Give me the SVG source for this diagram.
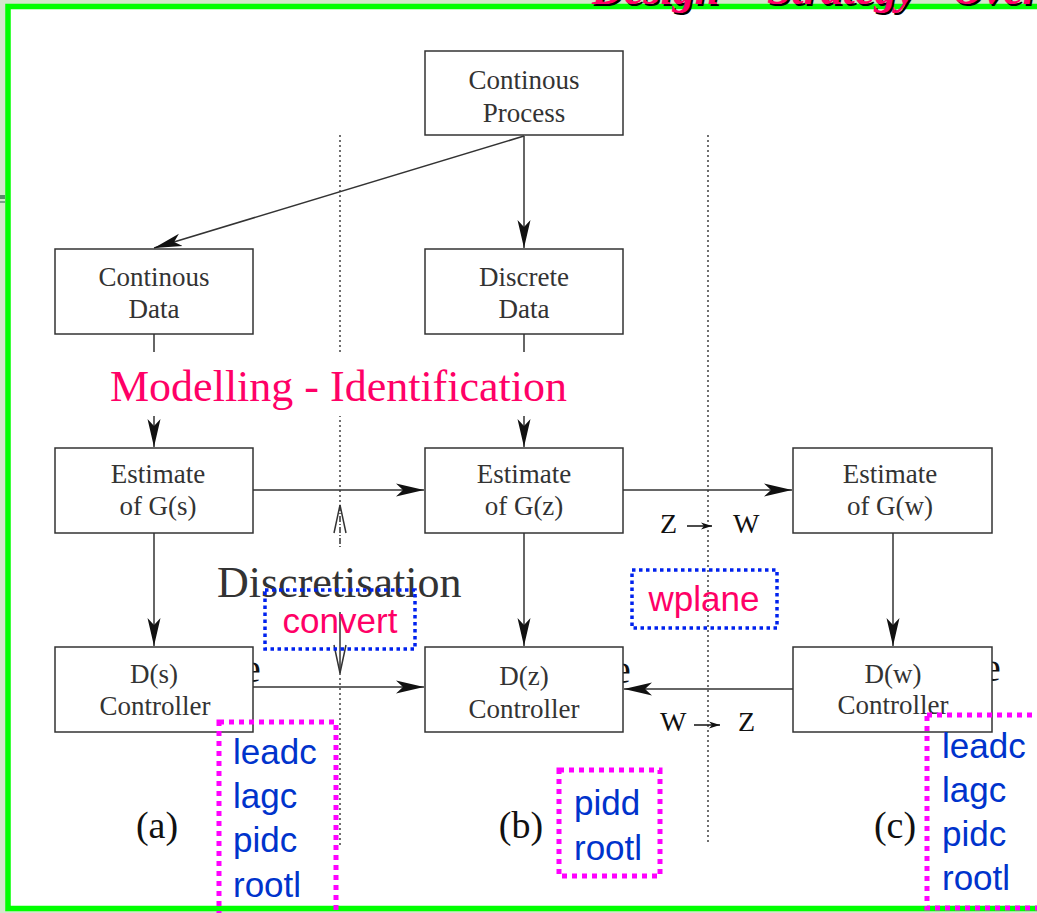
<svg xmlns="http://www.w3.org/2000/svg" width="1037" height="913" viewBox="0 0 1037 913">
<style>
.box{fill:#fff;stroke:#333;stroke-width:1.5}
.bt{font-family:"Liberation Serif",serif;font-size:27px;fill:#333;text-anchor:middle}
.ln{stroke:#333;stroke-width:1.5;fill:none}
.dot{stroke:#111;stroke-width:1.2;stroke-dasharray:2,3;fill:none}
.big{font-family:"Liberation Serif",serif;font-size:44px}
.lab{font-family:"Liberation Serif",serif;font-size:38px;fill:#111;text-anchor:middle}
.zw{font-family:"Liberation Serif",serif;font-size:28px;fill:#111}
.bluebox{fill:none;stroke:#0022ee;stroke-width:3.5;stroke-dasharray:3.5,3.5}
.magbox{fill:none;stroke:#ff00ff;stroke-width:5;stroke-dasharray:5,5}
.pk{font-family:"Liberation Sans",sans-serif;font-size:35px;fill:#ff0066;text-anchor:middle}
.bl{font-family:"Liberation Sans",sans-serif;font-size:35px;fill:#0033cc}
</style>
<defs>
<marker id="ah" markerWidth="30" markerHeight="16" refX="28" refY="8" orient="auto" markerUnits="userSpaceOnUse">
<path d="M0,1.5 L28,8 L0,14.5 L7,8 Z" fill="#111"/>
</marker>
<marker id="sa" markerWidth="12" markerHeight="8" refX="11" refY="4" orient="auto" markerUnits="userSpaceOnUse">
<path d="M0,0.5 L11,4 L0,7.5 L3,4 Z" fill="#111"/>
</marker>
</defs>
<rect x="0" y="0" width="1037" height="913" fill="#d4e6cc"/>
<rect x="0" y="195" width="5" height="4" fill="#5a8a6a"/>
<rect x="0" y="201" width="5" height="2" fill="#7aa08a"/>
<rect x="8" y="6.5" width="1040" height="902" fill="#fff" stroke="#00ff00" stroke-width="5.5"/>
<g id="title">
<text x="594" y="6" font-family="Liberation Serif,serif" font-weight="bold" font-style="italic" font-size="44" fill="#000">Design<tspan x="769">Strategy</tspan><tspan x="954">Overview</tspan></text>
<text x="592" y="4" font-family="Liberation Serif,serif" font-weight="bold" font-style="italic" font-size="44" fill="#ff0066">Design<tspan x="767">Strategy</tspan><tspan x="952">Overview</tspan></text>
</g>
<g id="partial-glyphs" font-family="Liberation Serif,serif" font-size="40" fill="#111">
<text x="243" y="682">e</text>
<text x="613" y="683">e</text>
<text x="983" y="681">e</text>
</g>
<g id="connectors">
<line class="dot" x1="340" y1="135" x2="340" y2="505"/>
<line class="ln" x1="340" y1="505" x2="340" y2="547" stroke-dasharray="6,2,1,2"/>
<polyline class="ln" points="334,533 340,505 346,533"/>
<line class="ln" x1="340" y1="612" x2="340" y2="673"/>
<polyline class="ln" points="334,645 340,673 346,645"/>
<line class="dot" x1="340" y1="673" x2="340" y2="845"/>
<line class="dot" x1="708" y1="135" x2="708" y2="845"/>
<line class="ln" x1="524" y1="136" x2="154" y2="248" marker-end="url(#ah)"/>
<line class="ln" x1="524" y1="136" x2="524" y2="248" marker-end="url(#ah)"/>
<line class="ln" x1="154" y1="334" x2="154" y2="447" marker-end="url(#ah)"/>
<line class="ln" x1="524" y1="334" x2="524" y2="447" marker-end="url(#ah)"/>
<line class="ln" x1="253" y1="490" x2="424" y2="490" marker-end="url(#ah)"/>
<line class="ln" x1="623" y1="490" x2="792" y2="490" marker-end="url(#ah)"/>
<line class="ln" x1="154" y1="533" x2="154" y2="646" marker-end="url(#ah)"/>
<line class="ln" x1="524" y1="533" x2="524" y2="646" marker-end="url(#ah)"/>
<line class="ln" x1="893" y1="533" x2="893" y2="646" marker-end="url(#ah)"/>
<line class="ln" x1="253" y1="687" x2="424" y2="687" marker-end="url(#ah)"/>
<line class="ln" x1="793" y1="689" x2="624" y2="689" marker-end="url(#ah)"/>
<line stroke="#111" stroke-width="1.5" x1="687" y1="526" x2="712" y2="526" marker-end="url(#sa)"/>
<line stroke="#111" stroke-width="1.5" x1="694" y1="725" x2="720" y2="725" marker-end="url(#sa)"/>
</g>
<g id="modelling">
<rect x="105" y="352" width="467" height="64" fill="#fff"/>
<text class="big" x="110" y="401" fill="#ff0066">Modelling - Identification</text>
</g>
<g id="discretisation">
<text class="big" x="217" y="597" fill="#333">Discretisation</text>
</g>
<g id="n-cp"><rect class="box" x="425" y="51" width="198" height="84"/><text class="bt" x="524" y="89">Continous</text><text class="bt" x="524" y="122">Process</text></g>
<g id="n-cd"><rect class="box" x="55" y="249" width="198" height="85"/><text class="bt" x="154" y="286">Continous</text><text class="bt" x="154" y="318">Data</text></g>
<g id="n-dd"><rect class="box" x="425" y="249" width="198" height="85"/><text class="bt" x="524" y="286">Discrete</text><text class="bt" x="524" y="318">Data</text></g>
<g id="n-gs"><rect class="box" x="55" y="448" width="198" height="85"/><text class="bt" x="158" y="483">Estimate</text><text class="bt" x="158" y="515">of G(s)</text></g>
<g id="n-gz"><rect class="box" x="425" y="448" width="198" height="85"/><text class="bt" x="524" y="483">Estimate</text><text class="bt" x="524" y="515">of G(z)</text></g>
<g id="n-gw"><rect class="box" x="793" y="448" width="199" height="85"/><text class="bt" x="890" y="483">Estimate</text><text class="bt" x="890" y="515">of G(w)</text></g>
<g id="n-ds"><rect class="box" x="55" y="647" width="198" height="85"/><text class="bt" x="154" y="683">D(s)</text><text class="bt" x="155" y="715">Controller</text></g>
<g id="n-dz"><rect class="box" x="425" y="647" width="198" height="85"/><text class="bt" x="524" y="685">D(z)</text><text class="bt" x="524" y="718">Controller</text></g>
<g id="n-dw"><rect class="box" x="793" y="647" width="199" height="85"/><text class="bt" x="893" y="683">D(w)</text><text class="bt" x="893" y="714">Controller</text></g>
<g id="zw-labels">
<text class="zw" x="660" y="533">Z</text><text class="zw" x="733" y="533">W</text>
<text class="zw" x="660" y="731">W</text><text class="zw" x="738" y="731">Z</text>
</g>
<g id="convert"><rect class="bluebox" x="265" y="590" width="150" height="59"/><text class="pk" x="340" y="633">convert</text></g>
<g id="wplane"><rect class="bluebox" x="632" y="570" width="145" height="58"/><text class="pk" x="704" y="611">wplane</text></g>
<g id="labels">
<text class="lab" x="157" y="838">(a)</text>
<text class="lab" x="521" y="838">(b)</text>
<text class="lab" x="895" y="838">(c)</text>
</g>
<g id="list-a"><rect class="magbox" x="219" y="722" width="117" height="200"/>
<text class="bl" x="233" y="764">leadc</text><text class="bl" x="233" y="808">lagc</text><text class="bl" x="233" y="852">pidc</text><text class="bl" x="233" y="897">rootl</text></g>
<g id="list-b"><rect class="magbox" x="559" y="770" width="101" height="106"/>
<text class="bl" x="574" y="815">pidd</text><text class="bl" x="574" y="860">rootl</text></g>
<g id="list-c"><rect class="magbox" x="927" y="715" width="130" height="193"/>
<text class="bl" x="942" y="758">leadc</text><text class="bl" x="942" y="802">lagc</text><text class="bl" x="942" y="846">pidc</text><text class="bl" x="942" y="890">rootl</text></g>
</svg>
